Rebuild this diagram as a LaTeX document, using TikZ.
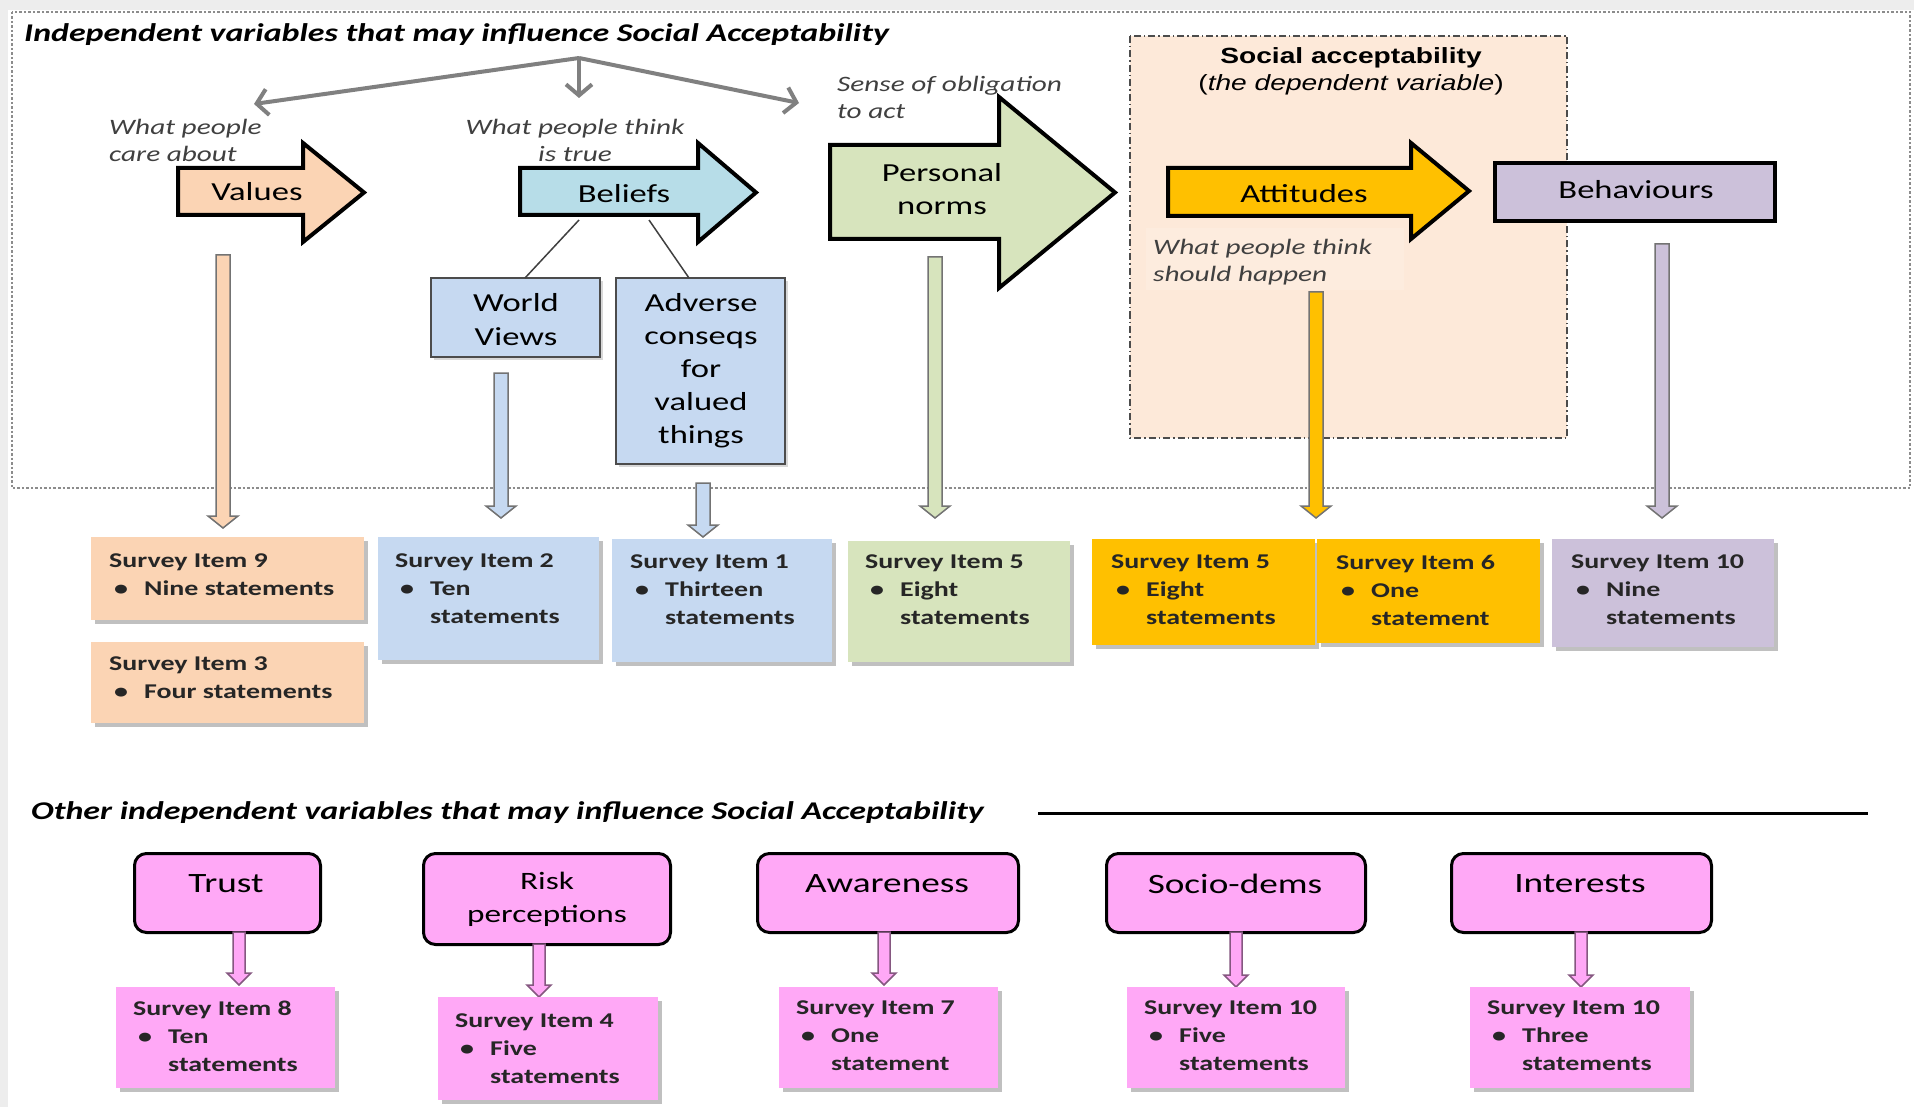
\documentclass[tikz,border=0pt]{standalone}
\usepackage{fontspec}
\setmainfont{Carlito}[FakeStretch=1.33]
\newfontfamily\arialfont{Liberation Sans}[FakeStretch=1.28]
\usetikzlibrary{arrows.meta,shadows,calc}

\definecolor{orangeF}{RGB}{251,212,180}
\definecolor{aquaF}{RGB}{183,221,232}
\definecolor{blueF}{RGB}{198,217,241}
\definecolor{greenF}{RGB}{215,228,189}
\definecolor{goldF}{RGB}{255,192,0}
\definecolor{lavF}{RGB}{204,193,218}
\definecolor{pinkF}{RGB}{255,168,246}
\definecolor{peachF}{RGB}{253,233,217}
\definecolor{notegray}{RGB}{64,64,64}
\definecolor{framegray}{RGB}{140,140,140}
\definecolor{splitgray}{RGB}{128,128,128}

% horizontal block arrow: left x, body top, body bottom, head x, head top, head bottom, tip x, style
\newcommand{\harrow}[8]{%
  \draw[#8] (#1,#2) -- (#4,#2) -- (#4,#5) -- (#7,{(#5+#6)/2}) -- (#4,#6) -- (#4,#3) -- (#1,#3) -- cycle;}
% downward block arrow: x, top y, tip y, shaft half width, head half width, head length, style
\newcommand{\varrow}[7]{%
  \draw[#7] (#1-#4,#2) -- (#1+#4,#2) -- (#1+#4,#3-#6) -- (#1+#5,#3-#6) -- (#1,#3)
    -- (#1-#5,#3-#6) -- (#1-#4,#3-#6) -- cycle;}
% bullet with hanging indent
\newcommand{\bl}{\makebox[35pt][l]{\hspace{5pt}\textbullet}}
\newcommand{\ind}{\hspace*{35pt}}

\begin{document}
\begin{tikzpicture}[x=1pt,y=-1pt,
  bigarrow/.style={line width=4pt, draw=black, line join=miter},
  lbl/.style={font=\fontsize{26}{33}\selectfont, align=center, inner sep=0},
  note/.style={font=\fontsize{22}{27}\selectfont\itshape, text=notegray, inner sep=0, align=left},
  stxt/.style={font=\fontsize{21}{28}\selectfont\bfseries, text=black!85, inner sep=0, align=left, anchor=west},
  sbox/.style={draw=none, anchor=north west, inner sep=0,
    drop shadow={shadow xshift=4pt, shadow yshift=-4pt, opacity=.35, fill=black!70}},
  bluebox/.style={draw=black!70, line width=1.5pt, fill=blueF, inner sep=0,
    drop shadow={shadow xshift=3pt, shadow yshift=-3pt, opacity=.25, fill=black!60}},
  pinkbox/.style={draw=black, line width=3pt, fill=pinkF, rounded corners=12pt, inner sep=0, anchor=north west},
  pinklbl/.style={font=\fontsize{28}{33}\selectfont, align=center, inner sep=0},
  downarrow/.style={draw=black!55, line width=1.5pt, line join=miter},
  pinkarrow/.style={draw=black!35!pinkF!80!black, line width=1.5pt, fill=pinkF, line join=miter},
  split/.style={draw=splitgray, line width=4pt, -{Straight Barb[length=11pt,width=26pt]}},
  thinline/.style={draw=notegray, line width=1.5pt},
  heading/.style={font=\fontsize{25.5}{30}\selectfont\bfseries\itshape, anchor=west, inner sep=0}
]
\useasboundingbox (0,0) rectangle (1914,1107);

% page background
\fill[black!7] (0,0) rectangle (1914,1107);
\fill[white] (8,10) rectangle (1914,1107);

% ---------- upper panel ----------
\draw[framegray, line width=2.5pt, dash pattern=on 2.5pt off 2pt] (12,12) rectangle (1910,488);

% dependent-variable region
\draw[fill=peachF, draw=black!70, line width=1.5pt, dash pattern=on 7pt off 3pt on 1.5pt off 3pt]
  (1130,36) rectangle (1567,438);
\fill[white, opacity=.15] (1146,228) rectangle (1404,290);

% panel title
\node[heading] (title) at (24,35) {Independent variables that may influence Social Acceptability};

% three-way split arrow
\coordinate (apex) at (579,58);
\coordinate (toValues) at (254,104);
\coordinate (toBeliefs) at (579,98);
\coordinate (toNorms) at (799,103);
\draw[split] (apex) -- (toValues);
\draw[split] (apex) -- (toBeliefs);
\draw[split] (apex) -- (toNorms);

% notes
\node[note, anchor=west] (careNote) at (109,140.5) {What people\\care about};
\node[note, align=center] (trueNote) at (575,140.5) {What people think\\is true};
\node[note, anchor=west] (oblNote) at (837,97) {Sense of obligation\\to act};
\node[note, anchor=west] (shouldNote) at (1153,262.5) {What people think\\should happen};

% dependent variable heading
\node[font=\arialfont\fontsize{22}{27}\selectfont, align=center, inner sep=0] (saHead) at (1351,71.5)
  {\textbf{Social acceptability}\\(\textit{the dependent variable})};

% block arrows
\harrow{178}{168}{215}{303}{143}{242}{364}{bigarrow, fill=orangeF}
\node[lbl] (values) at (257,192) {Values};
\harrow{520}{168}{215}{698}{143}{242}{756}{bigarrow, fill=aquaF}
\node[lbl] (beliefs) at (624,194) {Beliefs};
\harrow{830}{145}{239}{999}{97}{288}{1115}{bigarrow, fill=greenF}
\node[lbl] (norms) at (942,189) {Personal\\norms};
\harrow{1168}{168}{216}{1411}{143}{239}{1469}{bigarrow, fill=goldF}
\node[lbl] (attitudes) at (1304,194) {Attitudes};
\node[draw=black, line width=4pt, fill=lavF, minimum width=280, minimum height=58, inner sep=0]
  (behav) at (1635,192) {};
\node[lbl] (behavLbl) at (1636,190) {Behaviours};

% belief components
\node[bluebox, minimum width=169, minimum height=79] (wv) at (515.5,317.5) {};
\node[lbl, font=\fontsize{26}{34}\selectfont] (wvLbl) at (516,320) {World\\Views};
\node[bluebox, minimum width=169, minimum height=186] (adv) at (700.5,371) {};
\node[lbl, font=\fontsize{26}{33}\selectfont] (advLbl) at (701,371) {Adverse\\conseqs\\for\\valued\\things};
\coordinate (bL) at (579,220);
\coordinate (bR) at (649,220);
\coordinate (wvTop) at (525,278);
\coordinate (advTop) at (689,278);
\draw[thinline] (bL) -- (wvTop);
\draw[thinline] (bR) -- (advTop);

% downward arrows to survey items
\varrow{223}{255}{528}{7}{15}{12}{downarrow, fill=orangeF}
\varrow{501}{373}{518}{7}{15}{12}{downarrow, fill=blueF}
\varrow{703}{483}{537}{7}{15}{12}{downarrow, fill=blueF}
\varrow{935}{257}{518}{7}{15}{12}{downarrow, fill=greenF}
\varrow{1316}{292}{518}{7}{15}{12}{downarrow, fill=goldF}
\varrow{1662}{244}{518}{7}{15}{12}{downarrow, fill=lavF}

% survey item boxes, upper panel
\node[sbox, fill=orangeF, minimum width=273, minimum height=83] (s9) at (91,537) {};
\node[stxt] (s9t) at (109,575) {Survey Item 9\\\bl Nine statements};
\node[sbox, fill=orangeF, minimum width=273, minimum height=81] (s3) at (91,642) {};
\node[stxt] (s3t) at (109,678) {Survey Item 3\\\bl Four statements};
\node[sbox, fill=blueF, minimum width=221, minimum height=123] (s2) at (378,537) {};
\node[stxt] (s2t) at (395,589) {Survey Item 2\\\bl Ten\\\ind statements};
\node[sbox, fill=blueF, minimum width=220, minimum height=123] (s1) at (612,539) {};
\node[stxt] (s1t) at (630,590) {Survey Item 1\\\bl Thirteen\\\ind statements};
\node[sbox, fill=greenF, minimum width=222, minimum height=121] (s5g) at (848,541) {};
\node[stxt] (s5gt) at (865,590) {Survey Item 5\\\bl Eight\\\ind statements};
\node[sbox, fill=goldF, minimum width=223, minimum height=106] (s5o) at (1092,539) {};
\node[stxt] (s5ot) at (1111,590) {Survey Item 5\\\bl Eight\\\ind statements};
\node[sbox, fill=goldF, minimum width=223, minimum height=104] (s6) at (1317,539) {};
\node[stxt] (s6t) at (1336,590) {Survey Item 6\\\bl One\\\ind statement};
\node[sbox, fill=lavF, minimum width=222, minimum height=108] (s10) at (1552,539) {};
\node[stxt] (s10t) at (1571,590) {Survey Item 10\\\bl Nine\\\ind statements};

% ---------- lower panel ----------
\node[heading] (other) at (31,813) {Other independent variables that may influence Social Acceptability};
\coordinate (ruleL) at (1038,813);
\coordinate (ruleR) at (1868,813);
\draw[line width=3pt] (ruleL) -- (ruleR);

\node[pinkbox, minimum width=186, minimum height=79] (trust) at (133,852) {};
\node[pinklbl] (trustLbl) at (226,884) {Trust};
\node[pinkbox, minimum width=247, minimum height=91] (risk) at (422,852) {};
\node[pinklbl, font=\fontsize{25}{33}\selectfont] (riskLbl) at (547,899.5) {Risk\\perceptions};
\node[pinkbox, minimum width=261, minimum height=79] (aware) at (756,852) {};
\node[pinklbl] (awareLbl) at (887,884) {Awareness};
\node[pinkbox, minimum width=259, minimum height=79] (socio) at (1105,852) {};
\node[pinklbl] (socioLbl) at (1235,884) {Socio-dems};
\node[pinkbox, minimum width=260, minimum height=79] (inter) at (1450,852) {};
\node[pinklbl] (interLbl) at (1580,884) {Interests};

\varrow{239}{932}{985}{6}{12}{12}{pinkarrow}
\varrow{539}{944}{997}{6}{12}{12}{pinkarrow}
\varrow{884}{932}{985}{6}{12}{12}{pinkarrow}
\varrow{1236}{932}{987}{6}{12}{12}{pinkarrow}
\varrow{1581}{932}{987}{6}{12}{12}{pinkarrow}

\node[sbox, fill=pinkF, minimum width=219, minimum height=101] (s8) at (116,987) {};
\node[stxt] (s8t) at (133,1036) {Survey Item 8\\\bl Ten\\\ind statements};
\node[sbox, fill=pinkF, minimum width=220, minimum height=103] (s4) at (438,997) {};
\node[stxt] (s4t) at (455,1049) {Survey Item 4\\\bl Five\\\ind statements};
\node[sbox, fill=pinkF, minimum width=219, minimum height=101] (s7) at (779,987) {};
\node[stxt] (s7t) at (796,1036) {Survey Item 7\\\bl One\\\ind statement};
\node[sbox, fill=pinkF, minimum width=218, minimum height=101] (s10a) at (1127,987) {};
\node[stxt] (s10at) at (1144,1036) {Survey Item 10\\\bl Five\\\ind statements};
\node[sbox, fill=pinkF, minimum width=220, minimum height=101] (s10b) at (1470,987) {};
\node[stxt] (s10bt) at (1487,1036) {Survey Item 10\\\bl Three\\\ind statements};
\end{tikzpicture}
\end{document}
